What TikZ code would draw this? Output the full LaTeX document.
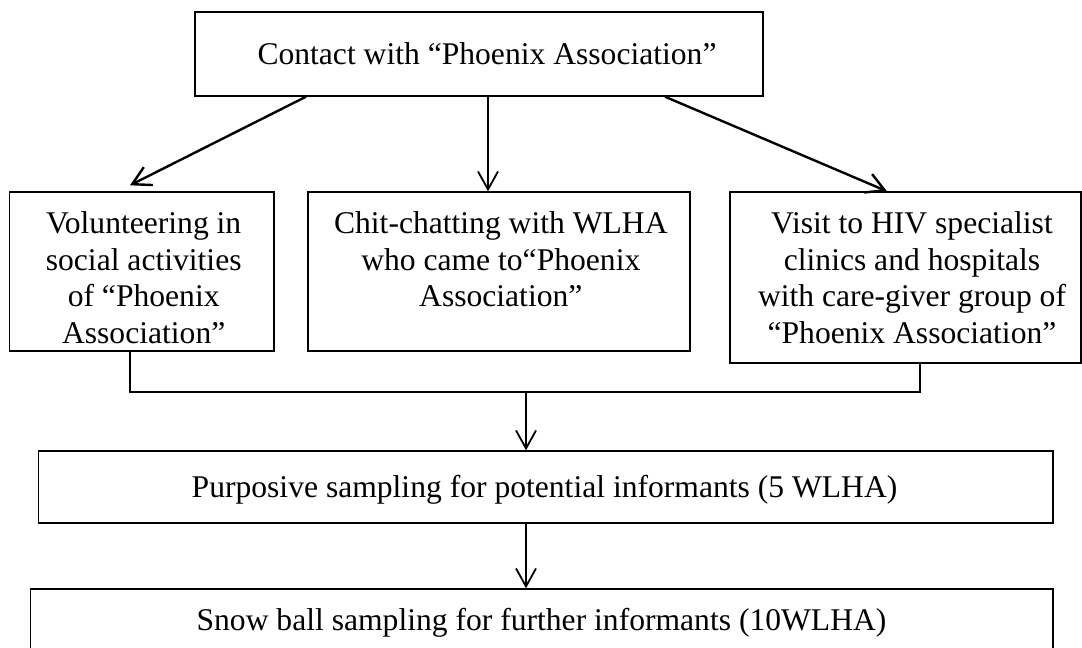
\documentclass[tikz,border=0pt]{standalone}
\usepackage{fontspec}
\setmainfont{Liberation Serif}
\usetikzlibrary{arrows.meta}
\begin{document}
\begin{tikzpicture}[x=1pt,y=-1pt,
  box/.style={draw, line width=1.4pt, rectangle, inner sep=0pt, anchor=center},
  lbl/.style={font=\fontsize{31.6}{36.7}\selectfont, align=center, inner sep=0pt, anchor=north},
  lblone/.style={font=\fontsize{31.6}{36.7}\selectfont, inner sep=0pt, anchor=base},
  arr/.style={line width=1.8pt, -{Straight Barb[length=18pt,width=20pt]}},
  darr/.style={arr, line width=2.4pt},
  link/.style={line width=1.6pt}]

\useasboundingbox (0,0) rectangle (1082,648);

% boxes
\node[box, minimum width=568pt, minimum height=84pt] (top) at (479,54) {};
\node[lblone] (toptext) at (487,64) {Contact with “Phoenix Association”};

\node[box, minimum width=264.5pt, minimum height=159pt] (left) at (141.75,271.5) {};
\node[lbl] (lefttext) at (143.7,207.5) {\strut Volunteering in\\social activities\\of “Phoenix\\Association”};

\node[box, minimum width=382pt, minimum height=159pt] (mid) at (499,271.5) {};
\node[lbl] (midtext) at (500.8,207.5) {\strut Chit-chatting with WLHA\\who came to“Phoenix\\Association”};

\node[box, minimum width=351pt, minimum height=171pt] (right) at (905.5,277.5) {};
\node[lbl] (righttext) at (912,207.5) {\strut Visit to HIV specialist\\clinics and hospitals\\with care-giver group of\\“Phoenix Association”};

\node[box, minimum width=1014.5pt, minimum height=72pt] (purp) at (545.75,487) {};
\node[lblone] (purptext) at (544.5,497) {Purposive sampling for potential informants (5 WLHA)};

\node[box, minimum width=1022.5pt, minimum height=62pt] (snow) at (541.75,620) {};
\node[lblone] (snowtext) at (541.5,630) {Snow ball sampling for further informants (10WLHA)};

% connectors
\draw[darr] ([xshift=-173pt]top.south) -- ([xshift=-11.75pt,yshift=6pt]left.north);
\draw[arr] ([xshift=9pt]top.south) -- ([xshift=-11pt]mid.north);
\draw[darr] ([xshift=186pt]top.south) -- ([xshift=-18.5pt]right.north);

\coordinate (join) at (526,392);
\draw[link] ([xshift=-11.75pt]left.south) |- (join);
\draw[link] ([xshift=14.5pt]right.south) |- (join);
\draw[arr] (join) -- (join |- purp.north);
\draw[arr] (join |- purp.south) -- (join |- snow.north);
\end{tikzpicture}
\end{document}
